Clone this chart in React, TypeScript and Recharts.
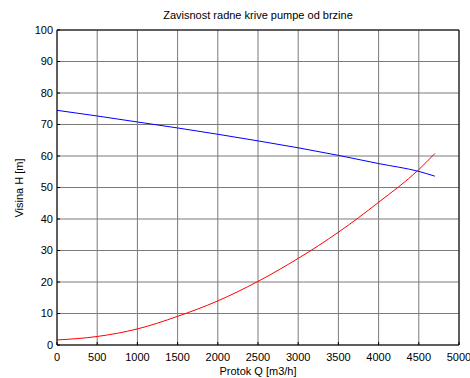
import React from 'react';
import { LineChart, Line, XAxis, YAxis, CartesianGrid } from 'recharts';

// flow rate Q [m3/h] and the two head curves H [m]
const flow = [0, 500, 1000, 1500, 2000, 2500, 3000, 3500, 4000, 4500, 4700];
const pumpHead = [74.5, 72.7, 70.8, 68.9, 66.9, 64.8, 62.6, 60.2, 57.6, 55.1, 53.6];
const systemHead = [1.6, 2.7, 5.1, 9.1, 14.0, 20.2, 27.5, 35.8, 45.3, 55.7, 60.8];

const xTicks = [0, 500, 1000, 1500, 2000, 2500, 3000, 3500, 4000, 4500, 5000];
const yTicks = [0, 10, 20, 30, 40, 50, 60, 70, 80, 90, 100];

const title = 'Zavisnost radne krive pumpe od brzine';
const xLabel = 'Protok Q [m3/h]';
const yLabel = 'Visina H [m]';

const data = flow.map((q, i) => ({ q, pump: pumpHead[i], system: systemHead[i] }));

const font = 'Liberation Sans, Arial, Helvetica, sans-serif';
const W = 470;
const H = 378;
const TICK = 3;

// ticks point inward (mirror), labels are drawn back outside the box
const XTick = (props: any) => (
  <text x={props.x} y={props.y + 19} textAnchor="middle" fontSize={11} fontFamily={font} fill="#000">
    {props.payload.value}
  </text>
);

const YTick = (props: any) => (
  <text x={props.x - TICK - 4} y={props.y} dy="0.36em" textAnchor="end" fontSize={11} fontFamily={font} fill="#000">
    {props.payload.value}
  </text>
);

export default function App() {
  return (
    <div style={{ position: 'absolute', left: 0, top: 0, width: W, height: H, background: '#fff' }}>
      <LineChart width={W} height={H} data={data} margin={{ top: 30, right: 11, bottom: 33, left: 57 }}>
        <CartesianGrid stroke="#7a7a7a" strokeWidth={1} />
        <XAxis
          dataKey="q"
          type="number"
          domain={[0, 5000]}
          ticks={xTicks}
          mirror
          height={1}
          tickSize={TICK}
          tickMargin={0}
          tick={<XTick />}
          axisLine={{ stroke: '#000' }}
          tickLine={{ stroke: '#000' }}
          interval={0}
        />
        <XAxis
          xAxisId="top"
          dataKey="q"
          type="number"
          orientation="top"
          domain={[0, 5000]}
          ticks={xTicks}
          mirror
          height={1}
          tickSize={TICK}
          tick={false}
          axisLine={{ stroke: '#000' }}
          tickLine={{ stroke: '#000' }}
          interval={0}
        />
        <YAxis
          type="number"
          domain={[0, 100]}
          ticks={yTicks}
          mirror
          width={1}
          tickSize={TICK}
          tickMargin={0}
          tick={<YTick />}
          axisLine={{ stroke: '#000' }}
          tickLine={{ stroke: '#000' }}
          interval={0}
        />
        <YAxis
          yAxisId="right"
          type="number"
          orientation="right"
          domain={[0, 100]}
          ticks={yTicks}
          mirror
          width={1}
          tickSize={TICK}
          tick={false}
          axisLine={{ stroke: '#000' }}
          tickLine={{ stroke: '#000' }}
          interval={0}
        />
        <Line type="monotone" dataKey="pump" stroke="#0000ff" strokeWidth={1} dot={false} isAnimationActive={false} />
        <Line type="monotone" dataKey="system" stroke="#ff0000" strokeWidth={1} dot={false} isAnimationActive={false} />
      </LineChart>
      <svg width={W} height={H} style={{ position: 'absolute', left: 0, top: 0, pointerEvents: 'none' }}>
        <text x={258} y={19} textAnchor="middle" fontSize={11} fontFamily={font} fill="#000">
          {title}
        </text>
        <text x={258} y={375} textAnchor="middle" fontSize={11} fontFamily={font} fill="#000">
          {xLabel}
        </text>
        <text
          x={0}
          y={0}
          transform="translate(23,188) rotate(-90)"
          textAnchor="middle"
          fontSize={11}
          fontFamily={font}
          fill="#000"
        >
          {yLabel}
        </text>
      </svg>
    </div>
  );
}
